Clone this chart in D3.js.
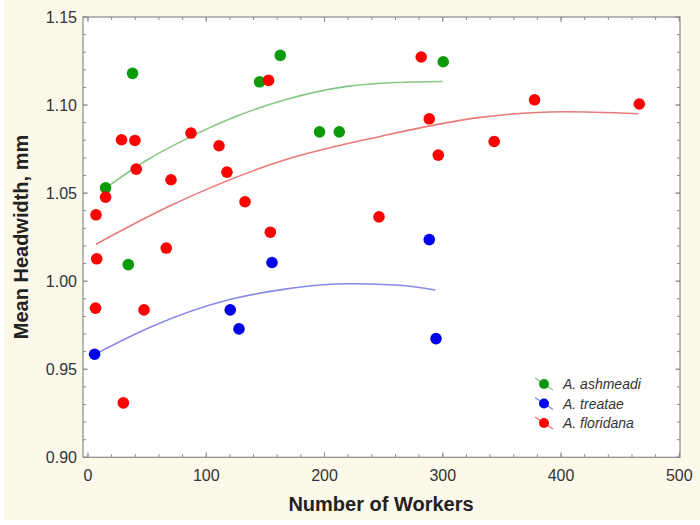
<!DOCTYPE html>
<html>
<head>
<meta charset="utf-8">
<script src="https://cdn.jsdelivr.net/npm/d3@7"></script>
<style>
  body { margin: 0; background: #ffffff; }
  svg { display: block; font-family: "Liberation Sans", Arial, sans-serif; }
</style>
</head>
<body>
<svg class="chart" width="700" height="525"></svg>
<script>
// values
const ashmeadiX = [14.9, 37.7, 34.1, 145.1, 162.6, 195.8, 212.5, 300.4];
const ashmeadiY = [1.053, 1.118, 1.0094, 1.1132, 1.1282, 1.0848, 1.0848, 1.1246];

const treataeX = [5.6, 120.3, 127.7, 155.6, 288.6, 294.3];
const treataeY = [0.9585, 0.9837, 0.9729, 1.0106, 1.0236, 0.9674];

const floridanaX = [6.8, 7.4, 6.4, 14.9, 28.4, 39.7, 40.8, 29.9, 47.4, 70.2, 66.2, 87.1,
  110.8, 117.5, 132.8, 152.7, 154.2, 246.1, 281.8, 288.6, 296.2, 343.5, 377.6, 466.2];
const floridanaY = [1.0377, 1.0127, 0.9847, 1.0477, 1.0803, 1.0799, 1.0636, 0.9309, 0.9837, 1.0576, 1.0188, 1.0841,
  1.0769, 1.0619, 1.0451, 1.114, 1.0278, 1.0365, 1.1273, 1.0922, 1.0716, 1.0793, 1.103, 1.1006];

// fitted curves
const ashmeadiFitX = [14.9, 50, 82.3, 125, 166.8, 219.0, 260, 299.8];
const ashmeadiFitY = [1.0528, 1.0688, 1.0805, 1.0935, 1.1030, 1.1106, 1.1128, 1.1134];
const treataeFitX = [4.7, 54.1, 118.9, 166.8, 219.0, 260, 293.7];
const treataeFitY = [0.9581, 0.9743, 0.9894, 0.9955, 0.9985, 0.9978, 0.9950];
const floridanaFitX = [6.8, 68.2, 166.8, 247.2, 331.7, 402.0, 465.3];
const floridanaFitY = [1.0210, 1.0424, 1.0689, 1.0822, 1.0930, 1.0962, 1.0951];

const xTicks = [0, 100, 200, 300, 400, 500];
const yTicks = [0.90, 0.95, 1.00, 1.05, 1.10, 1.15];

const seriesNames = ['A. ashmeadi', 'A. treatae', 'A. floridana'];
const dotColors = ['#0a9a0a', '#0000ee', '#ff0000'];
const lineColors = ['#86c886', '#8a8ae6', '#e87a7a'];

const svg = d3.select('.chart');
const plotL = 83, plotR = 680, plotT = 17, plotB = 457.3;

const x = d3.scaleLinear().domain([-4.2, 500.6]).range([plotL, plotR]);
const y = d3.scaleLinear().domain([0.90, 1.15]).range([plotB, plotT]);

// cream background + white plot
svg.append('rect').attr('x', 4).attr('y', 0).attr('width', 696).attr('height', 520).attr('fill', '#fcf8ea');
svg.append('rect').attr('x', plotL).attr('y', plotT).attr('width', plotR - plotL).attr('height', plotB - plotT).attr('fill', '#ffffff');

// ticks (inward, all four sides)
const tickColor = '#8a8a8a';
const xMinor = d3.range(0, 501, 20);
const yMinor = d3.range(0, 26).map(i => 0.90 + i * 0.01);

function addTicks(g, vals, len, horiz) {
  vals.forEach(v => {
    if (horiz) {
      const px = x(v);
      g.append('line').attr('x1', px).attr('x2', px).attr('y1', plotB).attr('y2', plotB - len);
      g.append('line').attr('x1', px).attr('x2', px).attr('y1', plotT).attr('y2', plotT + len);
    } else {
      const py = y(v);
      g.append('line').attr('y1', py).attr('y2', py).attr('x1', plotL).attr('x2', plotL + len);
      g.append('line').attr('y1', py).attr('y2', py).attr('x1', plotR).attr('x2', plotR - len);
    }
  });
}
const tickG = svg.append('g').attr('stroke', tickColor).attr('stroke-width', 1);
addTicks(tickG, xMinor, 3, true);
addTicks(tickG, xTicks, 5, true);
addTicks(tickG, yMinor, 3, false);
addTicks(tickG, yTicks, 5, false);

svg.append('rect').attr('x', plotL).attr('y', plotT).attr('width', plotR - plotL).attr('height', plotB - plotT)
  .attr('fill', 'none').attr('stroke', tickColor).attr('stroke-width', 1.2);

// tick labels
svg.append('g').selectAll('text').data(xTicks).enter().append('text')
  .attr('x', d => x(d)).attr('y', 481)
  .attr('text-anchor', 'middle').attr('font-size', 16).attr('fill', '#333')
  .text(d => d);
svg.append('g').selectAll('text').data(yTicks).enter().append('text')
  .attr('x', 77).attr('y', d => y(d) + 5.5)
  .attr('text-anchor', 'end').attr('font-size', 16).attr('fill', '#333')
  .text(d => d3.format('.2f')(d));

// axis titles
svg.append('text').attr('x', 381).attr('y', 511).attr('text-anchor', 'middle')
  .attr('font-size', 20).attr('font-weight', 'bold').attr('fill', '#222')
  .text('Number of Workers');
svg.append('text').attr('transform', 'translate(28,237) rotate(-90)').attr('text-anchor', 'middle')
  .attr('font-size', 20).attr('font-weight', 'bold').attr('fill', '#222')
  .text('Mean Headwidth, mm');

// fit lines
const lineGen = d3.line().x(d => x(d[0])).y(d => y(d[1])).curve(d3.curveMonotoneX);
const fits = [
  d3.zip(ashmeadiFitX, ashmeadiFitY),
  d3.zip(treataeFitX, treataeFitY),
  d3.zip(floridanaFitX, floridanaFitY)
];
fits.forEach((pts, i) => {
  svg.append('path').attr('d', lineGen(pts)).attr('fill', 'none')
    .attr('stroke', lineColors[i]).attr('stroke-width', 1.6);
});

// points
const pointSets = [
  d3.zip(ashmeadiX, ashmeadiY),
  d3.zip(treataeX, treataeY),
  d3.zip(floridanaX, floridanaY)
];
pointSets.forEach((pts, i) => {
  svg.append('g').selectAll('circle').data(pts).enter().append('circle')
    .attr('cx', d => x(d[0])).attr('cy', d => y(d[1])).attr('r', 5.8)
    .attr('fill', dotColors[i]);
});

// legend
const legend = svg.append('g').attr('transform', 'translate(544,384)');
seriesNames.forEach((name, i) => {
  const row = legend.append('g').attr('transform', `translate(0,${i * 19.5})`);
  row.append('line').attr('x1', -9).attr('y1', -6).attr('x2', 9).attr('y2', 6)
    .attr('stroke', lineColors[i]).attr('stroke-width', 1.5);
  row.append('circle').attr('r', 5).attr('fill', dotColors[i]);
  row.append('text').attr('x', 19).attr('y', 5).attr('font-size', 14)
    .attr('font-style', 'italic').attr('fill', '#333').text(name);
});
</script>
</body>
</html>
